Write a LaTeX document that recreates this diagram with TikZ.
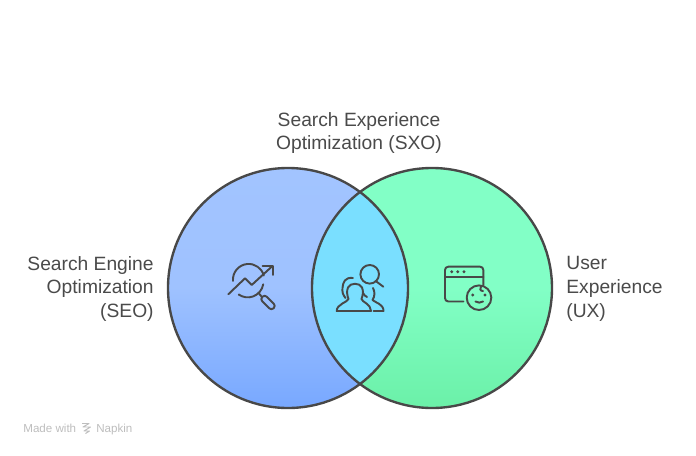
\documentclass[tikz,border=0pt]{standalone}
\usepackage{fontspec}
\setmainfont{Liberation Sans}
\definecolor{seotop}{HTML}{A2C4FF}
\definecolor{seobot}{HTML}{78A8FF}
\definecolor{uxtop}{HTML}{82FFC6}
\definecolor{uxbot}{HTML}{6BF0A8}
\definecolor{sxofill}{HTML}{7ADFFF}
\definecolor{inkdark}{HTML}{484848}
\definecolor{labeltext}{HTML}{4A4A4A}
\definecolor{markgrey}{HTML}{BDBDBD}
\tikzset{
	venn/.style={draw=inkdark,line width=1.35pt},
	icon/.style={draw=inkdark,line width=1.1pt,line cap=round,line join=round},
	lbl/.style={text=labeltext,font=\fontsize{10.95}{13.6}\selectfont},
	madewith/.style={text=markgrey,font=\fontsize{6.6}{8}\selectfont,inner sep=0pt}
}
\begin{document}
\begin{tikzpicture}[x=0.02cm,y=-0.02cm]
	\useasboundingbox (0,0) rectangle (696,456);
	\coordinate (L) at (288,288);
	\coordinate (R) at (432,288);
	\shade[top color=seotop,bottom color=seobot,middle color=seotop!92!seobot] (L) circle (120);
	\shade[top color=uxtop,bottom color=uxbot,middle color=uxtop] (R) circle (120);
	\begin{scope}
	\clip (L) circle (120);
	\fill[sxofill] (R) circle (120);
	\end{scope}
	\draw[venn] (L) circle (120);
	\draw[venn] (R) circle (120);
	\node[lbl,align=right,anchor=east,inner sep=0pt] (seo) at (154,289) {Search Engine\\Optimization\\(SEO)};
	\node[lbl,align=center,inner sep=0pt] (sxo) at (359,133) {Search Experience\\Optimization (SXO)};
	\node[lbl,align=left,anchor=west,inner sep=0pt] (ux) at (566,289) {User\\Experience\\(UX)};
	\draw[icon] (233,281) arc (175:345:15.7);
	\draw[icon] (263.2,284.4) arc (10:125:15.7);
	\draw[icon] (228.3,294.3) -- (245,278.3) -- (251.7,285) -- (271.7,266.7);
	\draw[icon] (262.7,265.7) -- (272.7,265.7) -- (272.7,275);
	\draw[icon] (258.3,292.7) -- (261.7,296.7);
	\draw[icon,rotate around={-45:(268,302.5)},rounded corners=1.7pt] (260,299.3) rectangle (276,305.7);
	\draw[icon] (369.7,274.3) circle (9.3);
	\draw[icon] (375.7,281) -- (383.3,286.7);
	\draw[icon] (336.7,311) -- (371,311) .. controls (371,304) and (362,302) .. (361.5,299) .. controls (363,295) and (363.5,291) .. (362,287.5) .. controls (360,282.5) and (350,282.5) .. (348,287.5) .. controls (346.5,291) and (347,295) .. (348.5,299) .. controls (348,302) and (336.7,304) .. (336.7,311) -- cycle;
	\draw[icon] (353,278) .. controls (345,277) and (343,282) .. (342.5,288) .. controls (342,292) and (343,295) .. (345.5,298);
	\draw[icon] (363,293) .. controls (364,295) and (365,296) .. (367,297);
	\draw[icon] (373,288) .. controls (375,292) and (375,296) .. (372.5,300) .. controls (376,303) and (383.5,304) .. (383.5,311) -- (373.5,311);
	\draw[icon] (483.3,285) -- (483.3,270) .. controls (483.3,268) and (482,266.7) .. (480,266.7) -- (448.3,266.7) .. controls (446.3,266.7) and (445,268) .. (445,270) -- (445,298) .. controls (445,300) and (446.3,301.5) .. (448.3,301.5) -- (463.3,301.5);
	\draw[icon] (445,276.7) -- (483.3,276.7);
	\foreach \dotx in {451.7,457.7,464}
		\fill[inkdark] (\dotx,271.7) circle (1.6);
	\draw[icon] (479,297.7) circle (12.3);
	\fill[inkdark] (472.7,295) circle (1.6);
	\fill[inkdark] (485,295) circle (1.6);
	\draw[icon] (475.5,301.5) .. controls (477.5,303) and (481,303) .. (483,301.5);
	\draw[icon] (481,286.5) .. controls (479.5,288.5) and (480,291) .. (483,291);
	\node[madewith,anchor=base west] (made) at (23,432) {Made with};
	\node[madewith,anchor=base west] (napkin) at (96,432) {Napkin};
	\draw[markgrey,line width=0.55pt,line join=round] (82,423.5) -- (89,423.5) -- (83,427) -- (90.5,427) -- (84,431) -- (89.5,431) -- (85.5,433.5);
\end{tikzpicture}
\end{document}
